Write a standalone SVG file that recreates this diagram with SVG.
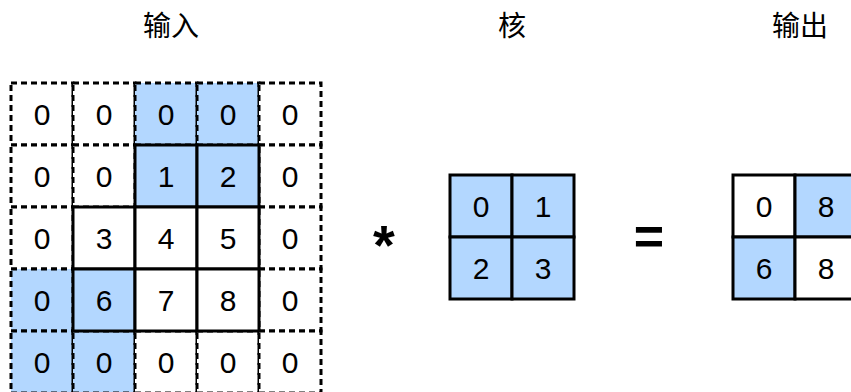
<svg xmlns="http://www.w3.org/2000/svg" width="851" height="392" viewBox="0 0 851 392">
<style>
.pad{fill:#fff;stroke:#000;stroke-width:3;stroke-dasharray:6,4}
.padb{fill:#b3d7ff;stroke:#000;stroke-width:3;stroke-dasharray:6,4}
.c{fill:#fff;stroke:#000;stroke-width:3}
.cb{fill:#b3d7ff;stroke:#000;stroke-width:3}
.n{font-family:"Liberation Sans",Arial,sans-serif;font-size:30px;text-anchor:middle;dominant-baseline:central;fill:#000}
.t{font-family:"Noto Sans CJK SC","Liberation Sans",sans-serif;font-size:28px;text-anchor:middle;fill:#000}
.op{font-family:"Liberation Sans",Arial,sans-serif;font-weight:bold;text-anchor:middle;fill:#000}
</style>
<rect width="851" height="392" fill="#fff"/>
<g id="titles">
<text class="t" x="171" y="36">输入</text>
<text class="t" x="512" y="36">核</text>
<text class="t" x="800" y="36">输出</text>
</g>
<g id="input">
<rect class="pad" x="11" y="83" width="62" height="62"/>
<rect class="pad" x="73" y="83" width="62" height="62"/>
<rect class="padb" x="135" y="83" width="62" height="62"/>
<rect class="padb" x="197" y="83" width="62" height="62"/>
<rect class="pad" x="259" y="83" width="62" height="62"/>
<rect class="pad" x="11" y="145" width="62" height="62"/>
<rect class="pad" x="73" y="145" width="62" height="62"/>
<rect class="pad" x="259" y="145" width="62" height="62"/>
<rect class="pad" x="11" y="207" width="62" height="62"/>
<rect class="pad" x="259" y="207" width="62" height="62"/>
<rect class="padb" x="11" y="269" width="62" height="62"/>
<rect class="pad" x="259" y="269" width="62" height="62"/>
<rect class="padb" x="11" y="331" width="62" height="62"/>
<rect class="padb" x="73" y="331" width="62" height="62"/>
<rect class="pad" x="135" y="331" width="62" height="62"/>
<rect class="pad" x="197" y="331" width="62" height="62"/>
<rect class="pad" x="259" y="331" width="62" height="62"/>
<rect class="cb" x="135" y="145" width="62" height="62"/>
<rect class="cb" x="197" y="145" width="62" height="62"/>
<rect class="c" x="73" y="207" width="62" height="62"/>
<rect class="c" x="135" y="207" width="62" height="62"/>
<rect class="c" x="197" y="207" width="62" height="62"/>
<rect class="cb" x="73" y="269" width="62" height="62"/>
<rect class="c" x="135" y="269" width="62" height="62"/>
<rect class="c" x="197" y="269" width="62" height="62"/>
<text class="n" x="42" y="114">0</text><text class="n" x="104" y="114">0</text><text class="n" x="166" y="114">0</text><text class="n" x="228" y="114">0</text><text class="n" x="290" y="114">0</text>
<text class="n" x="42" y="176">0</text><text class="n" x="104" y="176">0</text><text class="n" x="166" y="176">1</text><text class="n" x="228" y="176">2</text><text class="n" x="290" y="176">0</text>
<text class="n" x="42" y="238">0</text><text class="n" x="104" y="238">3</text><text class="n" x="166" y="238">4</text><text class="n" x="228" y="238">5</text><text class="n" x="290" y="238">0</text>
<text class="n" x="42" y="300">0</text><text class="n" x="104" y="300">6</text><text class="n" x="166" y="300">7</text><text class="n" x="228" y="300">8</text><text class="n" x="290" y="300">0</text>
<text class="n" x="42" y="362">0</text><text class="n" x="104" y="362">0</text><text class="n" x="166" y="362">0</text><text class="n" x="228" y="362">0</text><text class="n" x="290" y="362">0</text>
</g>
<g id="operators">
<text class="op" x="384" y="264" font-size="56">*</text>
<text class="op" x="649" y="254" font-size="52">=</text>
</g>
<g id="kernel">
<rect class="cb" x="450" y="175" width="62" height="62"/>
<rect class="cb" x="512" y="175" width="62" height="62"/>
<rect class="cb" x="450" y="237" width="62" height="62"/>
<rect class="cb" x="512" y="237" width="62" height="62"/>
<text class="n" x="481" y="206">0</text><text class="n" x="543" y="206">1</text>
<text class="n" x="481" y="268">2</text><text class="n" x="543" y="268">3</text>
</g>
<g id="output">
<rect class="c" x="733" y="175" width="62" height="62"/>
<rect class="cb" x="795" y="175" width="62" height="62"/>
<rect class="cb" x="733" y="237" width="62" height="62"/>
<rect class="c" x="795" y="237" width="62" height="62"/>
<text class="n" x="764" y="206">0</text><text class="n" x="826" y="206">8</text>
<text class="n" x="764" y="268">6</text><text class="n" x="826" y="268">8</text>
</g>
<g id="connectors"></g>
</svg>
